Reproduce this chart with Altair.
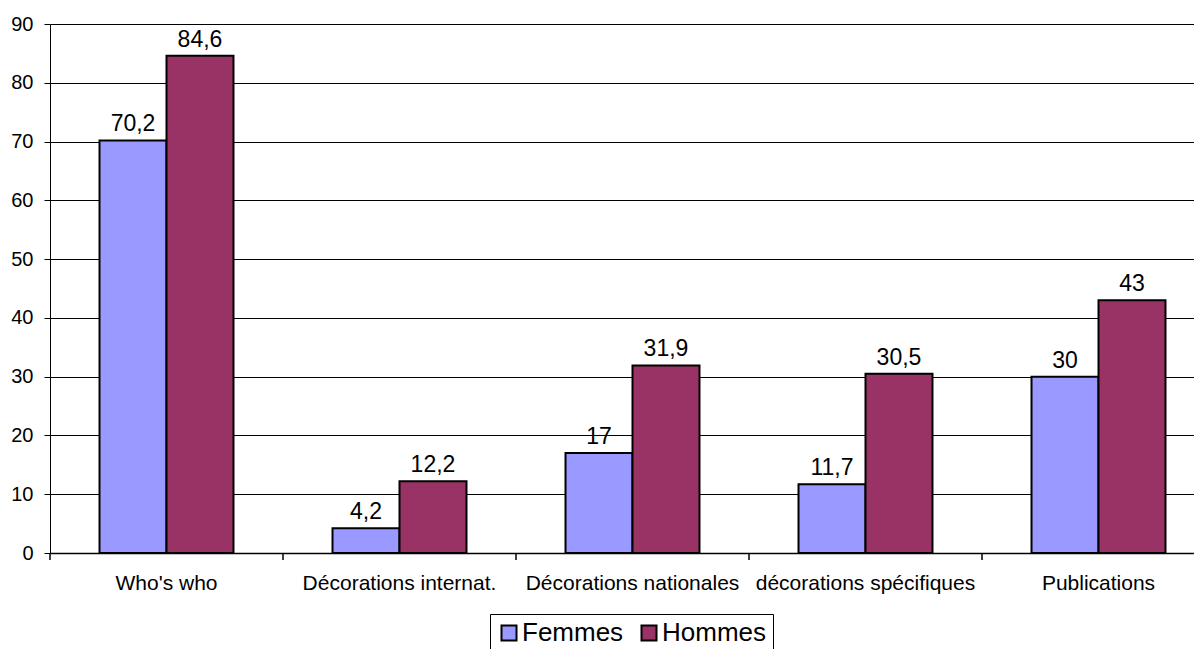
import altair as alt
import pandas as pd

categories = ["Who's who", "Décorations internat.", "Décorations nationales",
              "décorations spécifiques", "Publications"]
femmes = [70.2, 4.2, 17, 11.7, 30]
hommes = [84.6, 12.2, 31.9, 30.5, 43]
series = ["Femmes", "Hommes"]
colors = ["#9999FF", "#993366"]
y_ticks = [0, 10, 20, 30, 40, 50, 60, 70, 80, 90]

rows = []
for c, f, h in zip(categories, femmes, hommes):
    for s, v in zip(series, (f, h)):
        rows.append({"cat": c, "serie": s, "val": v,
                     "lab": f"{v:g}".replace(".", ",")})
df = pd.DataFrame(rows)

font = "Liberation Sans"

xscale = alt.Scale(paddingInner=0.425, paddingOuter=0.2125, range=[0, 1165])
xaxis = alt.Axis(title=None, labelAngle=0, labelFontSize=21, labelColor="#000",
                 labelFont=font, labelPadding=19, ticks=False, tickSize=0,
                 domainColor="#000", domainWidth=1.5, grid=False,
                 labelOverlap=False, labelLimit=0)
yaxis = alt.Axis(title=None, values=y_ticks, labelFontSize=20, labelColor="#000",
                 labelFont=font, labelPadding=11, tickSize=6, tickColor="#000",
                 domainColor="#000", domainWidth=1, grid=True, gridColor="#000",
                 gridWidth=1)

x = alt.X("cat:N", sort=categories, scale=xscale, axis=xaxis)
y = alt.Y("val:Q", scale=alt.Scale(domain=[0, 90]), axis=yaxis)
xoff = alt.XOffset("serie:N", sort=series,
                   scale=alt.Scale(paddingInner=0, paddingOuter=0))

bars = alt.Chart(df).mark_bar(stroke="black", strokeWidth=2).encode(
    x=x, y=y, xOffset=xoff,
    color=alt.Color("serie:N", scale=alt.Scale(domain=series, range=colors),
                    legend=alt.Legend(title=None, orient="none", legendX=440,
                                      legendY=590, direction="horizontal",
                                      columns=2, symbolType="square",
                                      symbolSize=225, symbolStrokeColor="black",
                                      symbolStrokeWidth=2, labelFontSize=26,
                                      labelFont=font, labelColor="#000",
                                      labelOffset=0, columnPadding=12,
                                      strokeColor="#000", padding=6,
                                      fillColor="white")),
)

texts = alt.Chart(df).mark_text(baseline="alphabetic", dy=-9, fontSize=23,
                                font=font, color="black").encode(
    x=x, y=y, xOffset=xoff, text="lab:N"
)

ticks = alt.Chart(df).mark_rule(color="black", strokeWidth=1, xOffset=-49.5).encode(
    x=alt.X("cat:N", sort=categories, bandPosition=0),
    y=alt.value(529), y2=alt.value(536)
)

chart = alt.layer(bars, texts, ticks).properties(
    width=1144, height=529,
    autosize=alt.AutoSizeParams(type="none"),
    padding={"left": 42, "top": 16, "right": 0, "bottom": 96},
).configure_view(stroke="transparent")

chart.save("out.html", embed_options={"renderer": "svg", "actions": False})
